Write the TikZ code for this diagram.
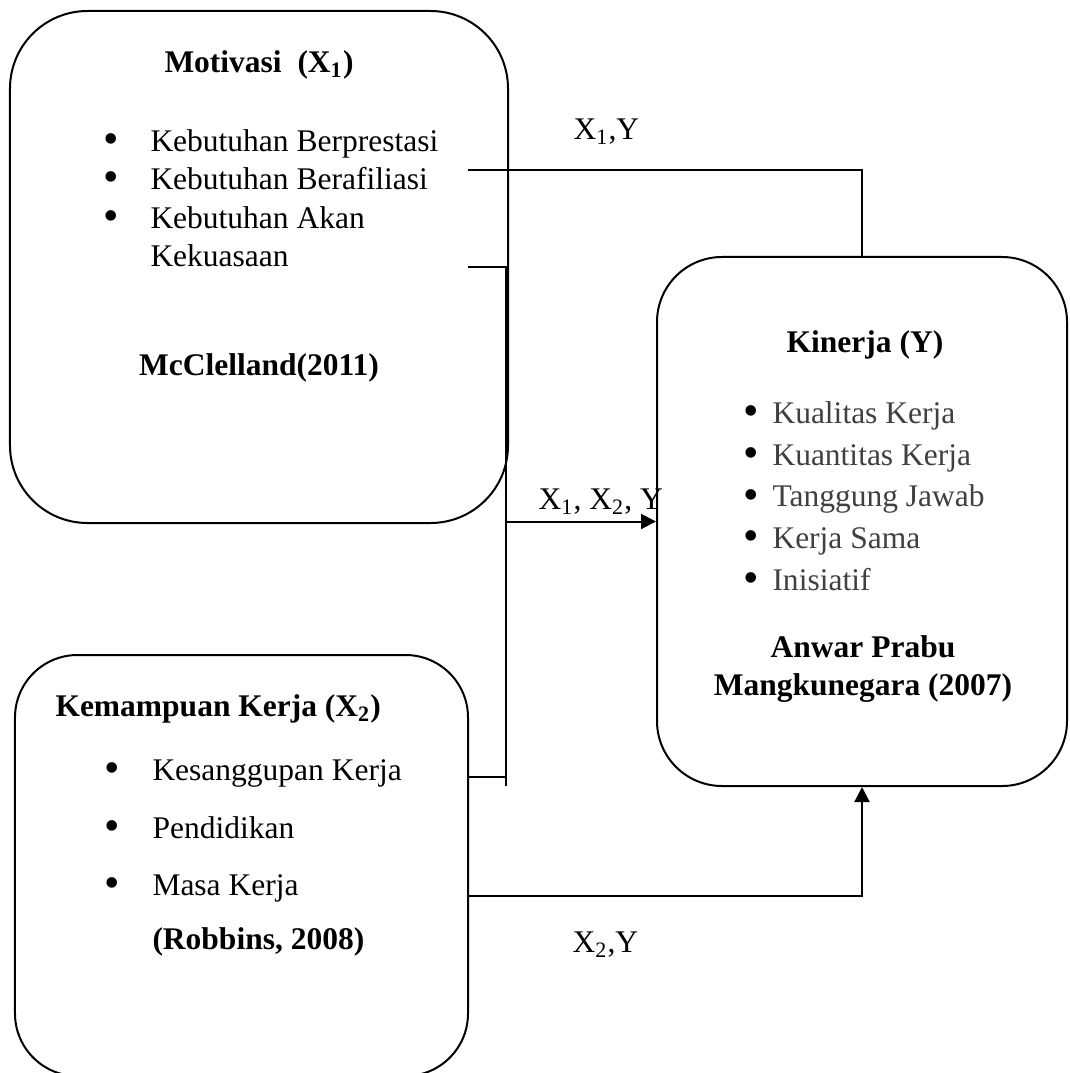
\documentclass[tikz,border=0pt]{standalone}
\usepackage{fontspec}
\setmainfont{Liberation Serif}
\usetikzlibrary{arrows.meta, positioning, calc}

\definecolor{kgray}{HTML}{404040}
\newcommand{\itm}[2]{\makebox[#1][l]{\raisebox{-0.9pt}{\scalebox{1.4}{\textbullet}}}#2}

\begin{document}
\begin{tikzpicture}[
  x=0.4pt, y=-0.4pt,
  font=\fontsize{12.6}{15.4}\selectfont,
  box/.style = {draw, line width=0.8pt, inner sep=0pt},
  title/.style = {font=\fontsize{12.6}{15.2}\selectfont\bfseries, inner sep=0pt},
  list/.style = {align=left, inner sep=0pt},
  line/.style = {line width=0.8pt},
  arrow/.style = {line width=0.8pt, -{Triangle[width=6pt, length=6pt]}}
]
  \useasboundingbox (0,0) rectangle (1069,1073);
  \clip (0,0) rectangle (1069,1073);

  % Three blocks
  \node[box, minimum width=199.2pt, minimum height=204.8pt, rounded corners=31pt] (motivasi) at (259,267) {};
  \node[box, minimum width=164pt, minimum height=211.6pt, rounded corners=26pt] (kinerja) at (862,521.5) {};
  \node[box, minimum width=181.2pt, minimum height=168.4pt, rounded corners=25pt] (kemampuan) at (241.5,865.5) {};

  % Motivasi contents
  \node[title] (t_mot) at (259,65) {Motivasi\ \ (X\textsubscript{1})};
  \node[list, anchor=west] (l_mot) at (103,198) {\itm{18.8pt}{Kebutuhan Berprestasi}\\
    \itm{18.8pt}{Kebutuhan Berafiliasi}\\
    \itm{18.8pt}{Kebutuhan Akan}\\
    \hspace*{18.8pt}Kekuasaan};
  \node[title] (t_mcc) at (259,368) {McClelland(2011)};

  % Kinerja contents
  \node[title] (t_kin) at (865,345) {Kinerja (Y)};
  \node[list, anchor=west, font=\fontsize{12.6}{16.7}\selectfont] (l_kin) at (743,497) {\itm{11.6pt}{\textcolor{kgray}{Kualitas Kerja}}\\
    \itm{11.6pt}{\textcolor{kgray}{Kuantitas Kerja}}\\
    \itm{11.6pt}{\textcolor{kgray}{Tanggung Jawab}}\\
    \itm{11.6pt}{\textcolor{kgray}{Kerja Sama}}\\
    \itm{11.6pt}{\textcolor{kgray}{Inisiatif}}};
  \node[title, align=center] (t_anw) at (863,669) {Anwar Prabu\\Mangkunegara (2007)};

  % Kemampuan contents
  \node[title, anchor=west] (t_kem) at (55,709) {Kemampuan Kerja (X\textsubscript{2})};
  \node[list, anchor=west, font=\fontsize{12.6}{23}\selectfont] (l_kem) at (104,831) {\itm{19.2pt}{Kesanggupan Kerja}\\
    \itm{19.2pt}{Pendidikan}\\
    \itm{19.2pt}{Masa Kerja}};
  \node[title, anchor=west] (t_rob) at (152,942) {(Robbins, 2008)};

  % Line ends
  \coordinate (x1out) at (468,170);
  \coordinate (b1out) at (468,267);
  \coordinate (b3out) at (468,777);
  \coordinate (join) at (506,786);
  \coordinate (x2out) at (468,896);

  % Connectors
  \draw[line] (x1out) -| (kinerja.north);
  \draw[line] (b1out) -| (join);
  \draw[line] (b3out) -- (b3out -| join);
  \draw[arrow] (join |- kinerja.west) -- (kinerja.west);
  \draw[arrow] (x2out) -| (kinerja.south);

  % Labels
  \node[inner sep=0pt, anchor=west] (lx1y) at (573,132) {X\textsubscript{1},Y};
  \node[inner sep=0pt, anchor=west] (lx12y) at (538,502) {X\textsubscript{1}, X\textsubscript{2}, Y};
  \node[inner sep=0pt, anchor=west] (lx2y) at (572,945) {X\textsubscript{2},Y};

\end{tikzpicture}
\end{document}
